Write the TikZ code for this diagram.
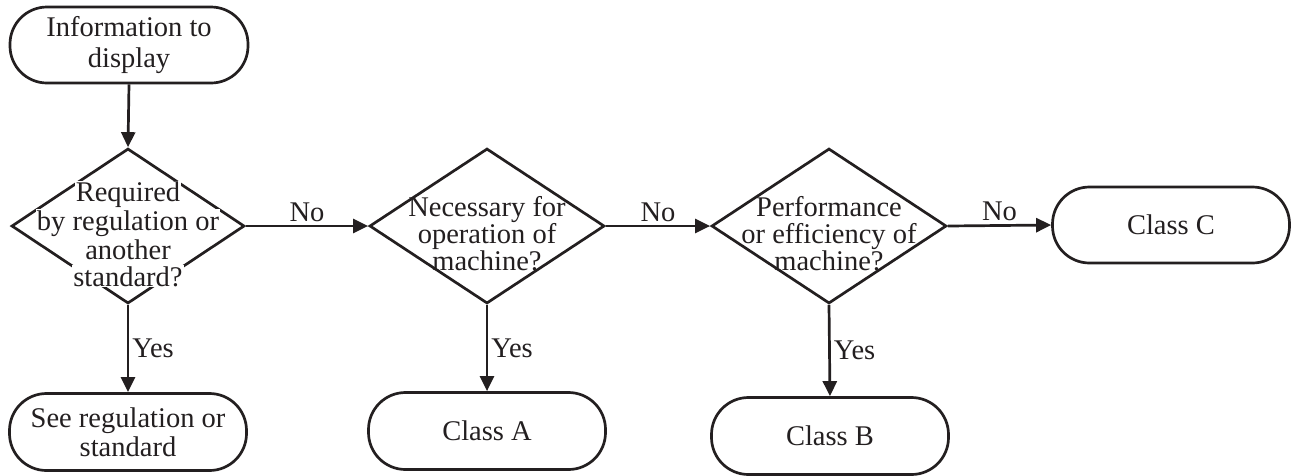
\documentclass[tikz,border=0pt]{standalone}
\usepackage{fontspec}
\setmainfont{Liberation Serif}
\usetikzlibrary{shapes.geometric,arrows.meta}
\definecolor{ink}{HTML}{231F20}
\begin{document}
\setlength{\fboxsep}{1pt}
\begin{tikzpicture}[x=1pt,y=-1pt,
  every node/.style={font=\fontsize{28.5}{27}\selectfont, text=ink},
  term/.style={draw=ink, line width=2.7pt, rounded corners=37pt, minimum width=237pt, minimum height=77pt, inner sep=0pt, align=center},
  decision/.style={draw=ink, diamond, line width=2.7pt, minimum width=235pt, minimum height=155pt, inner sep=0pt},
  dtext/.style={align=center, inner sep=0pt},
  conn/.style={draw=ink, line width=2.7pt, -{Triangle[length=15pt,width=14pt]}},
  lbl/.style={inner sep=3pt}]
\useasboundingbox (0,0) rectangle (1296,475);
% terminals
\node[term, minimum width=238pt, minimum height=76pt, font=\fontsize{28.5}{31}\selectfont] (start) at (129,45) {Information to\\display};
\node[term, font=\fontsize{28.5}{29}\selectfont] (see) at (128,432) {See regulation or\\standard};
\node[term] (ca) at (487,431) {Class A};
\node[term] (cb) at (830,436) {Class B};
\node[term, minimum height=76pt] (cc) at (1171,225) {Class C};
% decisions
\node[decision, minimum width=233pt] (d1) at (128,226) {};
\node[decision] (d2) at (487,226) {};
\node[decision] (d3) at (829,226) {};
\node[dtext] (d1t) at (128,234) {\colorbox{white}{Required}\\\colorbox{white}{by regulation or}\\\colorbox{white}{another}\\\colorbox{white}{standard?}};
\node[dtext] (d2t) at (487,234) {Necessary for\\operation of\\machine?};
\node[dtext] (d3t) at (829,234) {Performance\\or efficiency of\\machine?};
% connectors
\draw[conn] (start.south) -- (d1.north);
\draw[conn] (d1.south) -- node[lbl, right] (y1) {Yes} (see.north);
\draw[conn] (d1.east) -- node[lbl, above] (n1) {No} (d2.west);
\draw[conn] (d2.south) -- node[lbl, right] (y2) {Yes} (ca.north);
\draw[conn] (d2.east) -- node[lbl, above] (n2) {No} (d3.west);
\draw[conn] (d3.south) -- node[lbl, right] (y3) {Yes} (cb.north);
\draw[conn] (d3.east) -- node[lbl, above] (n3) {No} (cc.west);
\end{tikzpicture}
\end{document}
